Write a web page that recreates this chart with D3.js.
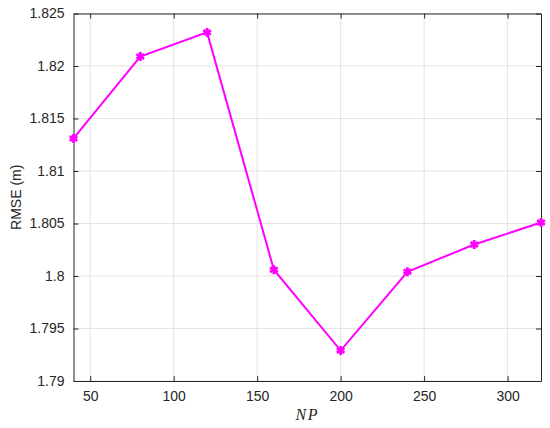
<!DOCTYPE html>
<html><head><meta charset="utf-8">
<script src="https://cdn.jsdelivr.net/npm/d3@7"></script>
<style>body{margin:0;background:#fff}svg{display:block}</style>
</head><body>
<script>
const npValues = [40, 80, 120, 160, 200, 240, 280, 320];
const rmseValues = [1.8131, 1.8209, 1.8232, 1.8006, 1.7929, 1.8004, 1.8030, 1.8051];
const xTicks = [50, 100, 150, 200, 250, 300];
const yTicks = [1.79, 1.795, 1.8, 1.805, 1.81, 1.815, 1.82, 1.825];
const yTickLabels = ["1.79", "1.795", "1.8", "1.805", "1.81", "1.815", "1.82", "1.825"];

const W = 550, H = 428;
const m = {l: 73.5, r: 9, t: 13.5, b: 47};
const svg = d3.select("body").append("svg").attr("width", W).attr("height", H);
const x = d3.scaleLinear().domain([40, 320]).range([m.l, W - m.r]);
const y = d3.scaleLinear().domain([1.79, 1.825]).range([H - m.b, m.t]);
const font = "'Liberation Sans', Arial, sans-serif";
const axisColor = "#262626";

// grid
const g = svg.append("g");
g.selectAll(".gx").data(xTicks).enter().append("line")
  .attr("x1", d => x(d)).attr("x2", d => x(d)).attr("y1", m.t).attr("y2", H - m.b)
  .attr("stroke", "#e3e3e3").attr("stroke-width", 1);
g.selectAll(".gy").data(yTicks).enter().append("line")
  .attr("y1", d => y(d)).attr("y2", d => y(d)).attr("x1", m.l).attr("x2", W - m.r)
  .attr("stroke", "#e3e3e3").attr("stroke-width", 1);

// axes
const xAxis = d3.axisBottom(x).tickValues(xTicks).tickSizeInner(-5).tickSizeOuter(0).tickPadding(10);
const yAxis = d3.axisLeft(y).tickValues(yTicks).tickFormat((d, i) => yTickLabels[i]).tickSizeInner(-5).tickSizeOuter(0).tickPadding(9);
const xa = svg.append("g").attr("transform", `translate(0,${H - m.b})`).call(xAxis);
const ya = svg.append("g").attr("transform", `translate(${m.l},0)`).call(yAxis);
const xTop = svg.append("g").attr("transform", `translate(0,${m.t})`).call(d3.axisTop(x).tickValues(xTicks).tickSizeInner(-5).tickSizeOuter(0).tickFormat(""));
const yRight = svg.append("g").attr("transform", `translate(${W - m.r},0)`).call(d3.axisRight(y).tickValues(yTicks).tickSizeInner(-5).tickSizeOuter(0).tickFormat(""));
[xa, ya, xTop, yRight].forEach(a => {
  a.selectAll("path").attr("stroke", axisColor).attr("stroke-width", 1);
  a.selectAll("line").attr("stroke", axisColor).attr("stroke-width", 1);
  a.selectAll("text").attr("fill", axisColor).style("font-family", font).style("font-size", "14px");
});

// line
svg.append("path").datum(npValues.map((v, i) => [v, rmseValues[i]]))
  .attr("d", d3.line().x(d => x(d[0])).y(d => y(d[1])))
  .attr("fill", "none").attr("stroke", "#ff00ff").attr("stroke-width", 2);

// markers
svg.selectAll(".mk").data(npValues).enter().append("path")
  .attr("transform", (d, i) => `translate(${x(d)},${y(rmseValues[i])})`)
  .attr("d", d3.symbol(d3.symbolAsterisk, 55))
  .attr("fill", "none").attr("stroke", "#ff00ff").attr("stroke-width", 2.8);

// labels
svg.append("text").attr("x", (m.l + W - m.r) / 2).attr("y", 420).attr("text-anchor", "middle")
  .style("font-family", "'Liberation Serif', 'Times New Roman', serif").style("font-style", "italic").style("font-size", "16px")
  .style("letter-spacing", "1.5px")
  .attr("fill", axisColor).text("NP");
svg.append("text").attr("transform", `translate(21,${(m.t + H - m.b) / 2}) rotate(-90)`).attr("text-anchor", "middle")
  .style("font-family", font).style("font-size", "14px").attr("fill", axisColor).text("RMSE (m)");
</script>
</body></html>
